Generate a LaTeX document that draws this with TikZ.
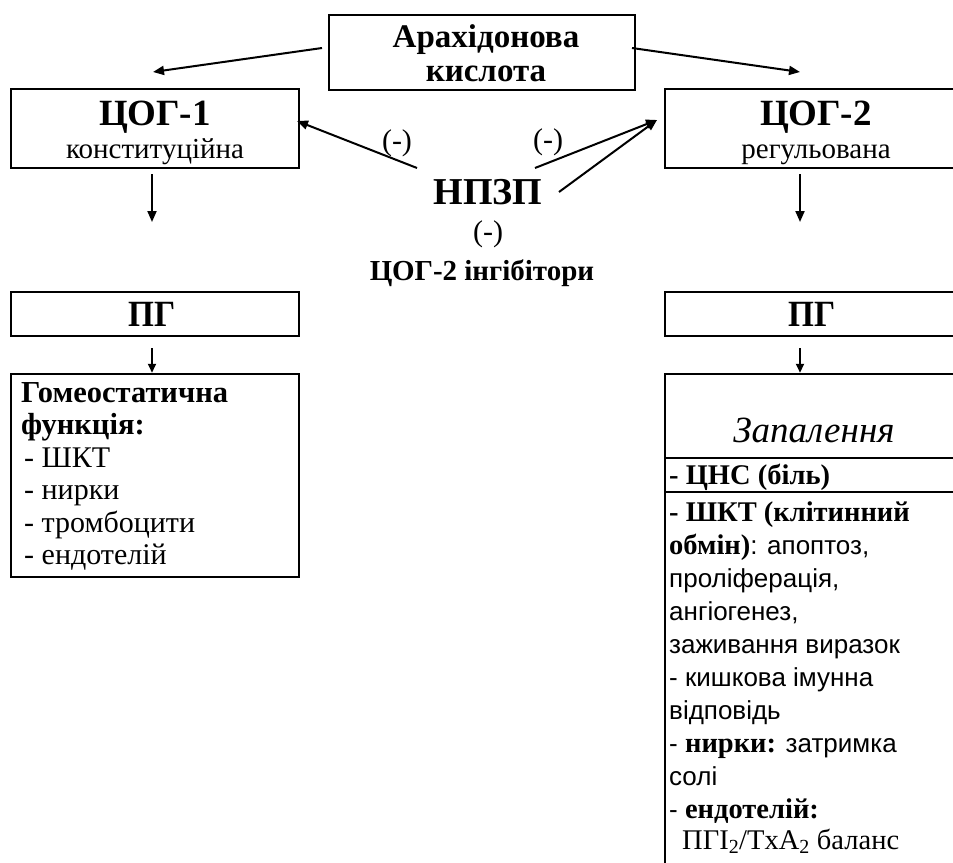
\documentclass[tikz,border=0pt]{standalone}
\usepackage{fontspec}
\setmainfont{Liberation Serif}
\newfontfamily\sansf{Liberation Sans}
\usetikzlibrary{arrows.meta}
\newcommand\fsz[1]{\fontsize{#1}{#1}\selectfont}
\begin{document}
\begin{tikzpicture}[x=1pt,y=-1pt,
  box/.style={draw, line width=2.5pt, inner sep=0pt},
  txt/.style={inner sep=0pt, anchor=base},
  ltxt/.style={inner sep=0pt, anchor=base west},
  arr/.style={line width=2pt, -{Triangle[length=11pt,width=9pt]}},
  sarr/.style={line width=2pt, -{Triangle[length=9pt,width=8pt]}},
  ttl/.style={font=\fsz{37}\bfseries},
  sub/.style={font=\fsz{29}},
  body/.style={font=\fsz{30}},
  neg/.style={font=\fsz{30}, inner sep=0pt}]
\useasboundingbox (0,0) rectangle (953,862);
\clip (0,0) rectangle (953,862);

% boxes
\node[box, minimum width=306pt, minimum height=75pt] (ak) at (482,52.5) {};
\node[box, minimum width=288pt, minimum height=79pt] (c1) at (155,128.5) {};
\node[box, minimum width=305pt, minimum height=79pt] (c2) at (817.5,128.5) {};
\node[box, minimum width=288pt, minimum height=44pt] (p1) at (155,314) {};
\node[box, minimum width=305pt, minimum height=44pt] (p2) at (817.5,314) {};
\node[box, minimum width=288pt, minimum height=203pt] (h1) at (155,475.5) {};
\node[box, minimum width=305pt, minimum height=526pt] (zb) at (817.5,637) {};
\draw[line width=2.5pt] (665,458) -- (970,458);
\draw[line width=2.5pt] (665,492) -- (970,492);

% texts
\node[txt, font=\fsz{33}\bfseries] (ak1) at (486,47) {Арахідонова};
\node[txt, font=\fsz{33}\bfseries] (ak2) at (486,81) {кислота};
\node[txt, ttl] (c1t) at (155,125) {ЦОГ-1};
\node[txt, sub] (c1s) at (155,158) {конституційна};
\node[txt, ttl] (c2t) at (816,125) {ЦОГ-2};
\node[txt, sub] (c2s) at (816,158) {регульована};
\node[txt, font=\fsz{38}\bfseries] (np) at (488,204) {НПЗП};
\node[neg] (n1) at (397,143) {(-)};
\node[neg] (n2) at (548,142) {(-)};
\node[neg] (n3) at (488,234) {(-)};
\node[txt, font=\fsz{29}\bfseries] (inh) at (482,280) {ЦОГ-2 інгібітори};
\node[txt, ttl] (p1t) at (152,326) {\scalebox{0.9}[1]{ПГ}};
\node[txt, ttl] (p2t) at (812,326) {\scalebox{0.9}[1]{ПГ}};

% left function box
\node[ltxt, font=\fsz{30.5}\bfseries] (h1a) at (21,402) {Гомеостатична};
\node[ltxt, font=\fsz{30.5}\bfseries] (h1b) at (21,434.5) {функція:};
\node[ltxt, body] (h1c) at (24,467) {- ШКТ};
\node[ltxt, body] (h1d) at (24,499.5) {- нирки};
\node[ltxt, body] (h1e) at (24,532) {- тромбоцити};
\node[ltxt, body] (h1f) at (24,564.5) {- ендотелій};

% right inflammation box
\node[txt, font=\fsz{37}\itshape] (zap) at (814,442) {Запалення};
\node[ltxt, font=\fsz{28.5}\bfseries] (r0) at (669,484) {- ЦНС (біль)};
\node[ltxt, font=\fsz{28.5}\bfseries] (r1) at (669,521) {- ШКТ (клітинний};
\node[ltxt, font=\fsz{28.5}] (r2) at (669,554) {\textbf{обмін)}{\sansf\fsz{26}: апоптоз,}};
\node[ltxt, font=\sansf\fsz{26}] (r3) at (669,587) {проліферація,};
\node[ltxt, font=\sansf\fsz{26}] (r4) at (669,620) {ангіогенез,};
\node[ltxt, font=\sansf\fsz{26}] (r5) at (669,653) {заживання виразок};
\node[ltxt, font=\sansf\fsz{26}] (r6) at (669,686) {- кишкова імунна};
\node[ltxt, font=\sansf\fsz{26}] (r7) at (669,719) {відповідь};
\node[ltxt, font=\sansf\fsz{26}] (r8) at (669,752) {- {\rmfamily\bfseries\fsz{28.5}нирки:} затримка};
\node[ltxt, font=\sansf\fsz{26}] (r9) at (669,785) {солі};
\node[ltxt, font=\sansf\fsz{26}] (r10) at (669,818) {- {\rmfamily\bfseries\fsz{28.5}ендотелій:}};
\node[ltxt, font=\fsz{28.5}] (r11) at (682,849) {ПГI\textsubscript{2}/TxA\textsubscript{2} баланс};

% connector end points
\coordinate (a1s) at (322,48);
\coordinate (a1e) at (153,72);
\coordinate (a2s) at (632,48);
\coordinate (a2e) at (800,72);
\coordinate (d1s) at (152,174);
\coordinate (d1e) at (152,222);
\coordinate (d2s) at (800,174);
\coordinate (d2e) at (800,222);
\coordinate (e1s) at (152,348);
\coordinate (e2s) at (800,348);
\coordinate (ns1) at (417,168);
\coordinate (ne1) at (297,121);
\coordinate (ns2) at (535,168);
\coordinate (ns3) at (559,192);
\coordinate (ne2) at (657,120);

% connectors
\draw[arr] (a1s) -- (a1e);
\draw[arr] (a2s) -- (a2e);
\draw[arr] (d1s) -- (d1e);
\draw[arr] (d2s) -- (d2e);
\draw[sarr] (e1s) -- (h1.north -| e1s);
\draw[sarr] (e2s) -- (zb.north -| e2s);
\draw[arr] (ns1) -- (ne1);
\draw[arr] (ns2) -- (ne2);
\draw[arr] (ns3) -- (ne2);
\end{tikzpicture}
\end{document}
